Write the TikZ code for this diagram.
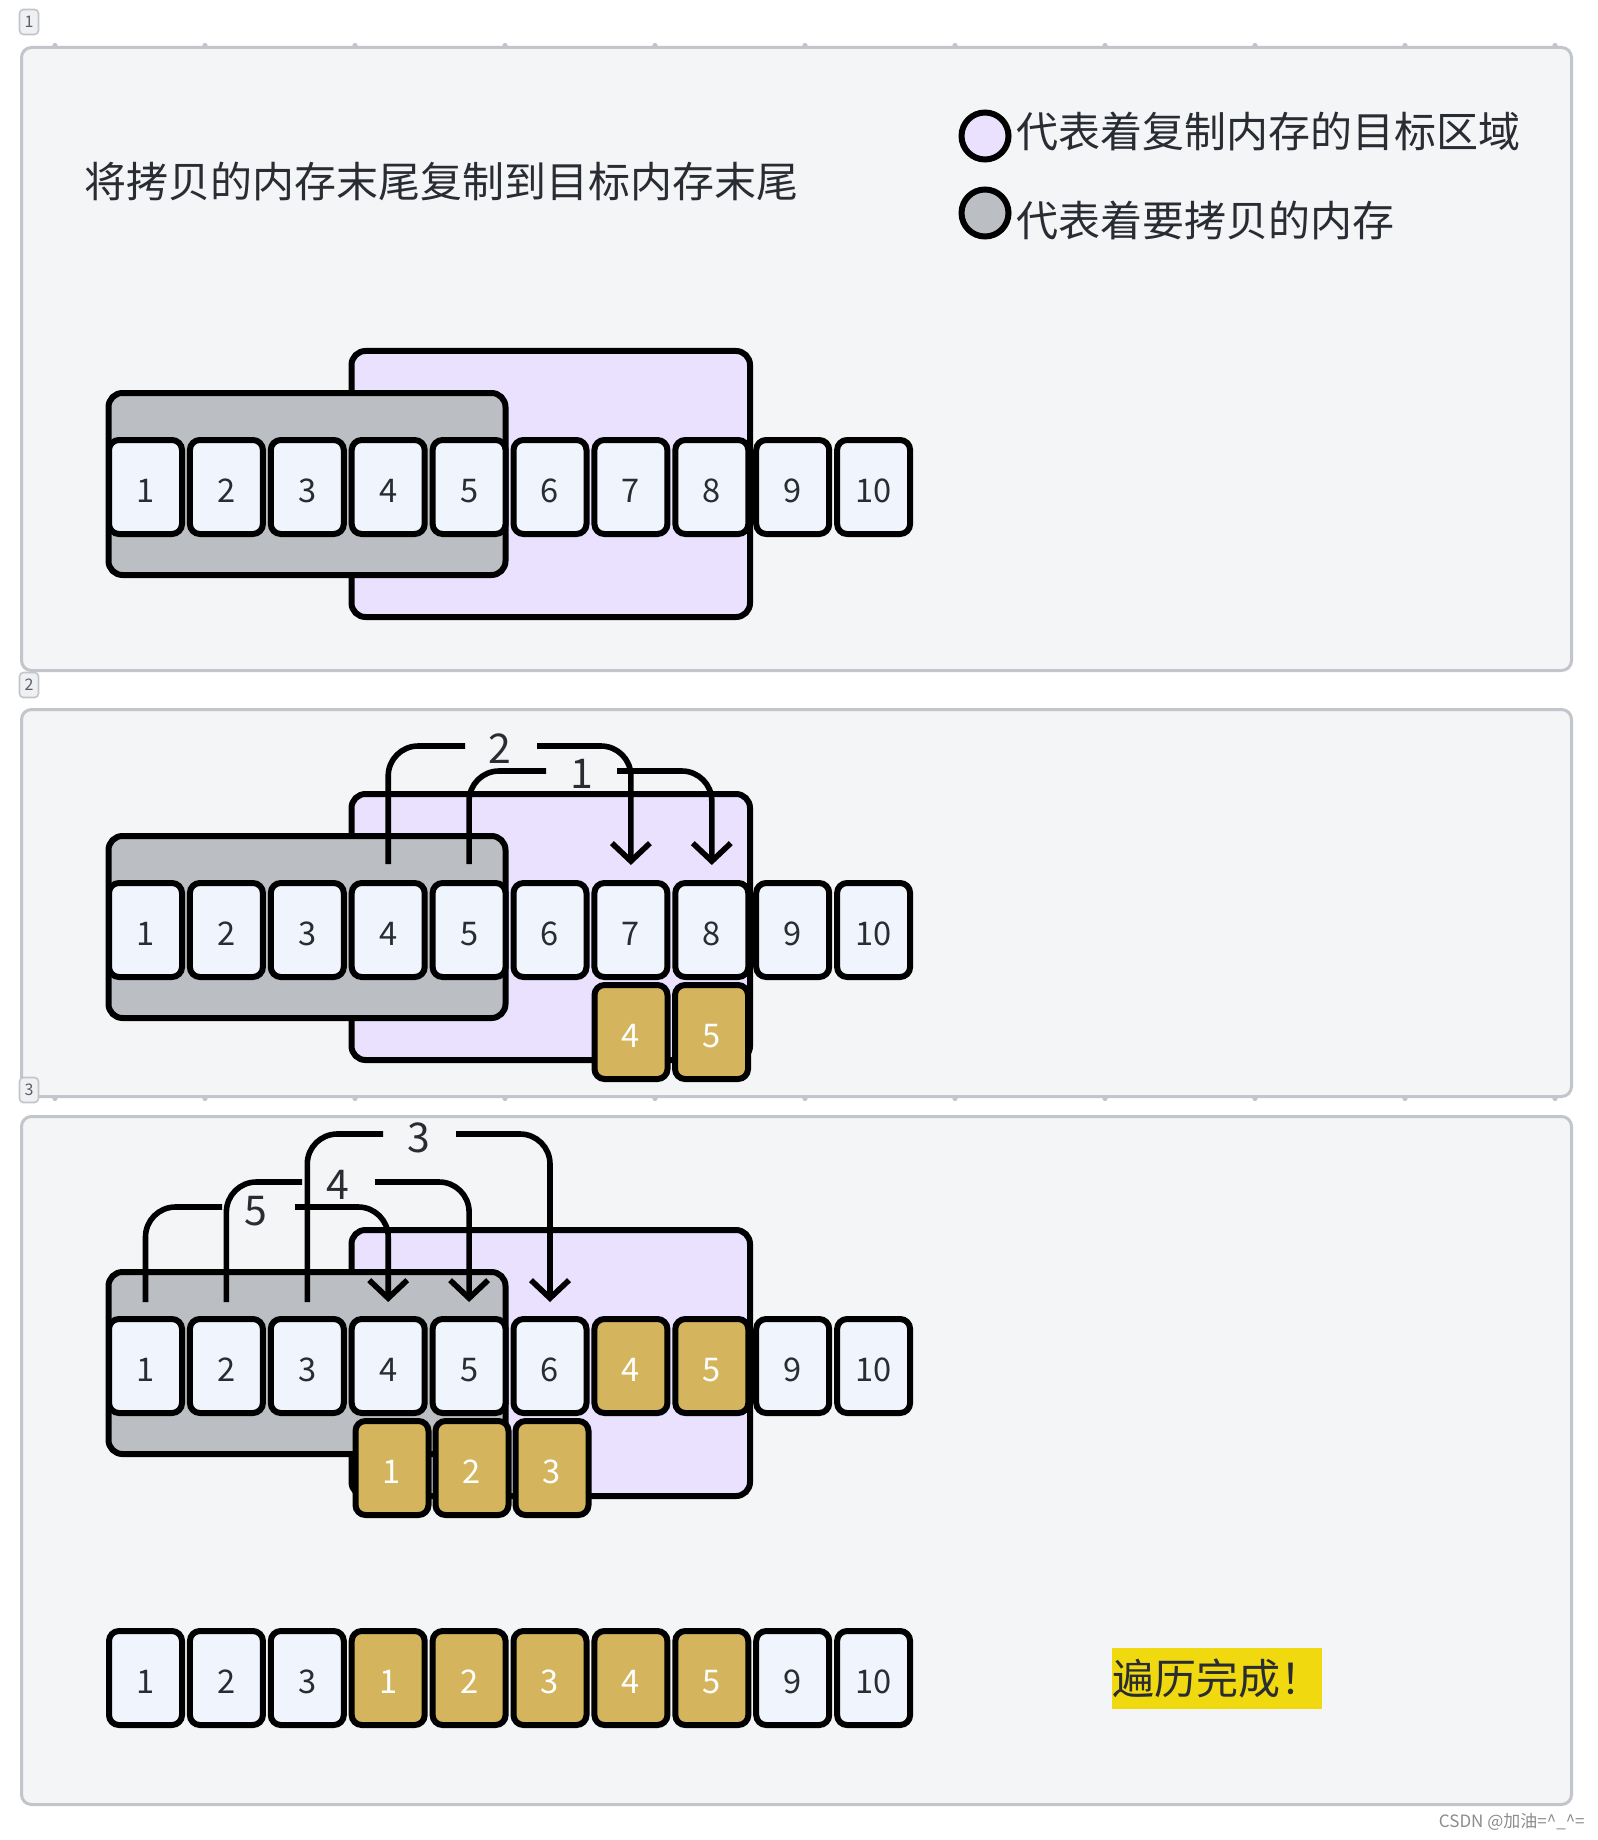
\documentclass[tikz,border=0pt]{standalone}
\usepackage{fontspec}
\setmainfont{Noto Sans CJK SC}
\usetikzlibrary{arrows.meta}
\definecolor{panelbg}{HTML}{F4F5F7}
\definecolor{panelline}{HTML}{C2C5CA}
\definecolor{cellfill}{HTML}{EFF4FD}
\definecolor{grayfill}{HTML}{BBBEC2}
\definecolor{purplefill}{HTML}{E9E1FD}
\definecolor{goldfill}{HTML}{D4B45C}
\definecolor{hilite}{HTML}{F0D90E}
\definecolor{txt}{HTML}{2A2C33}
\definecolor{tabfill}{HTML}{EEF0F2}
\definecolor{tabtxt}{HTML}{5A5E66}
\definecolor{wmtxt}{HTML}{8C8C8C}
\begin{document}
\begin{tikzpicture}[x=0.5pt,y=-0.5pt,
  panel/.style={draw=panelline, line width=1.5pt, fill=panelbg, rounded corners=5pt},
  tabbox/.style={draw=panelline, line width=0.8pt, fill=tabfill, rounded corners=2pt, minimum width=9.5pt, minimum height=12.5pt, inner sep=0pt, text=tabtxt, font=\fontsize{8}{8}\selectfont},
  cell/.style={draw=black, line width=3pt, rounded corners=5pt, minimum width=36.5pt, minimum height=47pt, inner sep=0pt, fill=cellfill, text=txt, font=\fontsize{16.3}{16.3}\selectfont, text height=15.2pt, text depth=0pt},
  gold/.style={cell, fill=goldfill, text=white},
  areabox/.style={draw=black, line width=3pt, rounded corners=7pt},
  conn/.style={draw=black, line width=2.8pt, rounded corners=15pt},
  arrowtip/.style={-{Straight Barb[length=9pt,width=19pt]}},
  lbl/.style={text=txt, font=\fontsize{20.5}{20.5}\selectfont, inner sep=0pt},
  bigtext/.style={text=txt, font=\fontsize{21}{21}\selectfont, inner sep=0pt},
  legendcirc/.style={draw=black, line width=3pt, circle, minimum size=23.5pt, inner sep=0pt}
]
\useasboundingbox (0,0) rectangle (1598,1840);
\fill[white] (0,0) rectangle (1598,1840);

% panels
\draw[panel] (21.5,47.5) rectangle (1571.5,670.5);
\draw[panel] (21.5,709.5) rectangle (1571.5,1096.5);
\draw[panel] (21.5,1116.5) rectangle (1571.5,1804.5);
\foreach \k in {0,...,10} {
  \fill[panelline] ({55+150*\k},45.5) circle (1.3pt);
  \fill[panelline] ({55+150*\k},1098.5) circle (1.3pt);
}
\node[tabbox] (t1) at (29,22) {1};
\node[tabbox] (t2) at (29,685) {2};
\node[tabbox] (t3) at (29,1090) {3};

% regions
\foreach \y in {487,930,1366} {
  \draw[areabox, fill=purplefill] (351.5,\y-136) rectangle (750,\y+130);
  \draw[areabox, fill=grayfill] (108.5,\y-94) rectangle (505.5,\y+88);
}

% ---------- panel 1 ----------
\node[bigtext, anchor=west] (title) at (84,182) {将拷贝的内存末尾复制到目标内存末尾};
\node[legendcirc, fill=purplefill] (lg1) at (985,136) {};
\node[legendcirc, fill=grayfill] (lg2) at (985,213) {};
\node[bigtext, anchor=west] (lt1) at (1016,131) {代表着复制内存的目标区域};
\node[bigtext, anchor=west] (lt2) at (1016,220) {代表着要拷贝的内存};
\foreach \i in {1,...,10}
  \node[cell] (a\i) at ({145.5+80.9*(\i-1)},487) {\i};

% ---------- panel 2 ----------
\foreach \i in {1,...,10}
  \node[cell] (b\i) at ({145.5+80.9*(\i-1)},930) {\i};
\node[gold] (bg4) at (631,1032) {4};
\node[gold] (bg5) at (711.5,1032) {5};
\coordinate (b2l) at (465,746);
\coordinate (b2r) at (537,746);
\coordinate (b1l) at (546,771);
\coordinate (b1r) at (617,771);
\draw[conn] ([yshift=8pt]b4.north) |- (b2l);
\draw[conn,arrowtip] (b2r) -| ([yshift=7.5pt]b7.north);
\draw[conn] ([yshift=8pt]b5.north) |- (b1l);
\draw[conn,arrowtip] (b1r) -| ([yshift=7.5pt]b8.north);
\node[lbl] (bl2) at (500,749) {2};
\node[lbl] (bl1) at (582,774) {1};

% ---------- panel 3 ----------
\coordinate (c5l) at (222,1207);
\coordinate (c5r) at (295,1207);
\coordinate (c4l) at (302,1182);
\coordinate (c4r) at (375,1182);
\coordinate (c3l) at (383,1134);
\coordinate (c3r) at (456,1134);
\foreach \i in {1,...,6}
  \node[cell] (c\i) at ({145.5+80.9*(\i-1)},1366) {\i};
\node[gold] (c7) at (630.9,1366) {4};
\node[gold] (c8) at (711.8,1366) {5};
\node[cell] (c9) at (792.7,1366) {9};
\node[cell] (c10) at (873.6,1366) {10};
\draw[conn] ([yshift=7pt]c1.north) |- (c5l);
\draw[conn,arrowtip] (c5r) -| ([yshift=7pt]c4.north);
\draw[conn] ([yshift=7pt]c2.north) |- (c4l);
\draw[conn,arrowtip] (c4r) -| ([yshift=7pt]c5.north);
\draw[conn] ([yshift=7pt]c3.north) |- (c3l);
\draw[conn,arrowtip] (c3r) -| ([yshift=7pt]c6.north);
\node[lbl] (cl5) at (256,1211) {5};
\node[lbl] (cl4) at (338,1185) {4};
\node[lbl] (cl3) at (419,1138) {3};
\node[gold] (cg1) at (392,1468) {1};
\node[gold] (cg2) at (472,1468) {2};
\node[gold] (cg3) at (552,1468) {3};

% final row
\foreach \i in {1,2,3}
  \node[cell] (d\i) at ({145.5+80.9*(\i-1)},1678) {\i};
\foreach \i/\v in {4/1,5/2,6/3,7/4,8/5}
  \node[gold] (d\i) at ({145.5+80.9*(\i-1)},1678) {\v};
\node[cell] (d9) at (792.7,1678) {9};
\node[cell] (d10) at (873.6,1678) {10};
\node[bigtext, fill=hilite, inner xsep=0pt, minimum height=30.5pt, anchor=west] (done) at (1112,1678.5) {遍历完成！};

\node[text=wmtxt, font=\fontsize{8.5}{8.5}\selectfont, inner sep=0pt, anchor=east] (wm) at (1585,1822) {CSDN @加油=\textasciicircum\_\textasciicircum=};
\end{tikzpicture}
\end{document}
